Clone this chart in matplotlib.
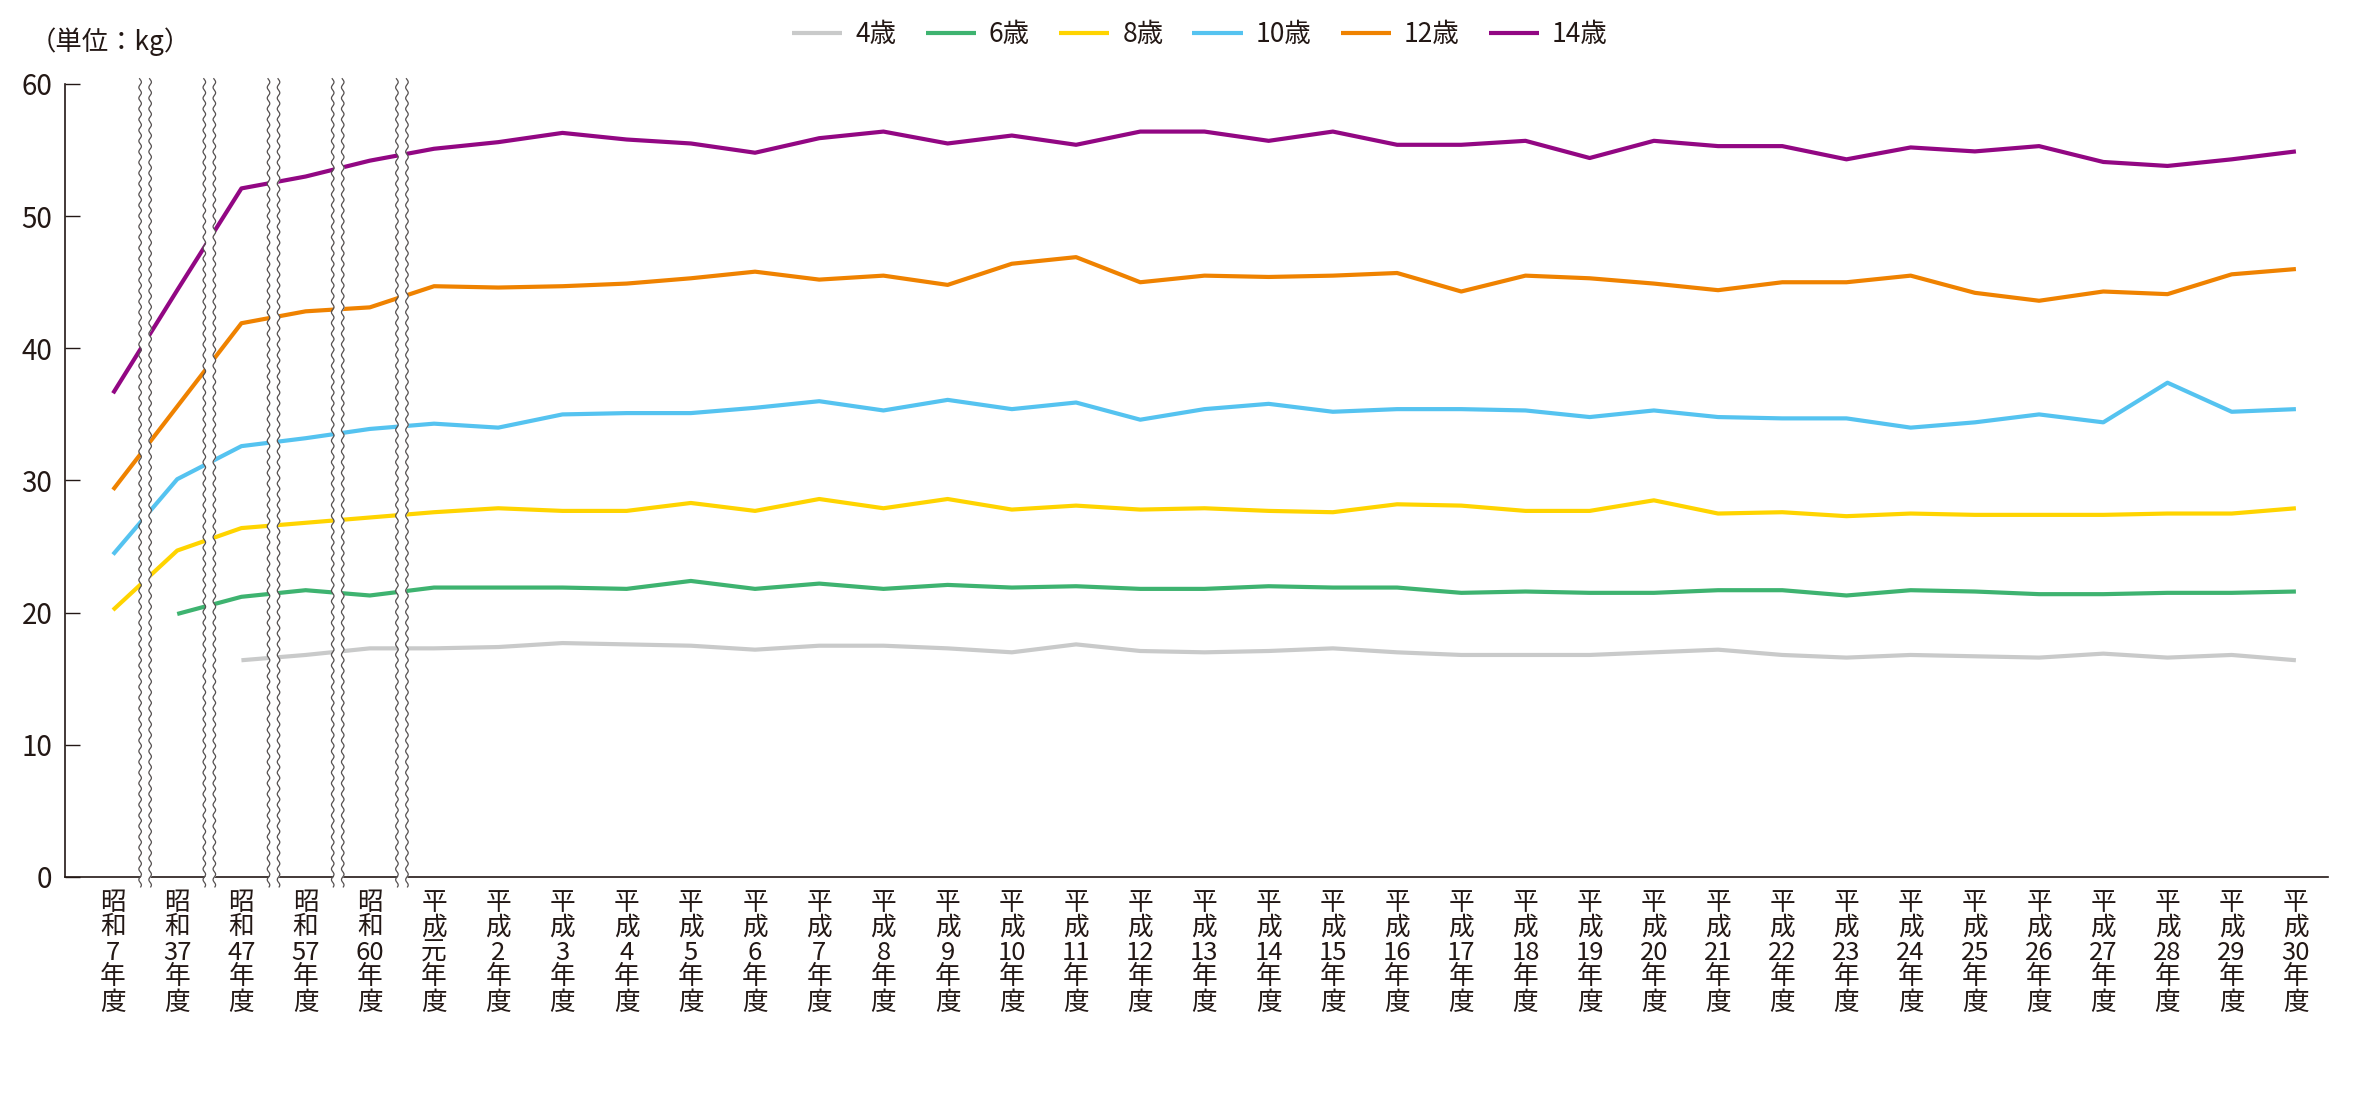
import numpy as np
import matplotlib
matplotlib.use('Agg')
import matplotlib.pyplot as plt

plt.rcParams['font.family'] = ['Noto Sans CJK JP', 'DejaVu Sans']

# 年度 (era, number)
eras = ['昭和'] * 5 + ['平成'] * 30
years = ['7', '37', '47', '57', '60', '元'] + [str(n) for n in range(2, 31)]

nan = np.nan
w4 = [nan, nan, 16.4, 16.8, 17.3, 17.3, 17.4, 17.7, 17.6, 17.5, 17.2, 17.5, 17.5, 17.3, 17.0, 17.6,
      17.1, 17.0, 17.1, 17.3, 17.0, 16.8, 16.8, 16.8, 17.0, 17.2, 16.8, 16.6, 16.8, 16.7, 16.6, 16.9,
      16.6, 16.8, 16.4]
w6 = [nan, 19.9, 21.2, 21.7, 21.3, 21.9, 21.9, 21.9, 21.8, 22.4, 21.8, 22.2, 21.8, 22.1, 21.9, 22.0,
      21.8, 21.8, 22.0, 21.9, 21.9, 21.5, 21.6, 21.5, 21.5, 21.7, 21.7, 21.3, 21.7, 21.6, 21.4, 21.4,
      21.5, 21.5, 21.6]
w8 = [20.2, 24.7, 26.4, 26.8, 27.2, 27.6, 27.9, 27.7, 27.7, 28.3, 27.7, 28.6, 27.9, 28.6, 27.8, 28.1,
      27.8, 27.9, 27.7, 27.6, 28.2, 28.1, 27.7, 27.7, 28.5, 27.5, 27.6, 27.3, 27.5, 27.4, 27.4, 27.4,
      27.5, 27.5, 27.9]
w10 = [24.4, 30.1, 32.6, 33.2, 33.9, 34.3, 34.0, 35.0, 35.1, 35.1, 35.5, 36.0, 35.3, 36.1, 35.4, 35.9,
       34.6, 35.4, 35.8, 35.2, 35.4, 35.4, 35.3, 34.8, 35.3, 34.8, 34.7, 34.7, 34.0, 34.4, 35.0, 34.4,
       37.4, 35.2, 35.4]
w12 = [29.3, 35.6, 41.9, 42.8, 43.1, 44.7, 44.6, 44.7, 44.9, 45.3, 45.8, 45.2, 45.5, 44.8, 46.4, 46.9,
       45.0, 45.5, 45.4, 45.5, 45.7, 44.3, 45.5, 45.3, 44.9, 44.4, 45.0, 45.0, 45.5, 44.2, 43.6, 44.3,
       44.1, 45.6, 46.0]
w14 = [36.6, 44.4, 52.1, 53.0, 54.2, 55.1, 55.6, 56.3, 55.8, 55.5, 54.8, 55.9, 56.4, 55.5, 56.1, 55.4,
       56.4, 56.4, 55.7, 56.4, 55.4, 55.4, 55.7, 54.4, 55.7, 55.3, 55.3, 54.3, 55.2, 54.9, 55.3, 54.1,
       53.8, 54.3, 54.9]

series = [('4歳', w4, '#c9caca'), ('6歳', w6, '#3eb370'), ('8歳', w8, '#ffd400'),
          ('10歳', w10, '#55c3f0'), ('12歳', w12, '#ef8200'), ('14歳', w14, '#920783')]

ink = '#231815'
x = np.arange(len(years))

fig = plt.figure(figsize=(23.56, 11), dpi=100)
ax = fig.add_axes([65 / 2356, 1 - 877 / 1100, (2328 - 65) / 2356, (877 - 84) / 1100])

for name, vals, col in series:
    ax.plot(x, vals, color=col, lw=3.0, label=name, solid_capstyle='butt', zorder=3)

ax.set_ylim(0, 60)
ax.set_xlim(-0.748, 34.5)
ax.set_yticks(range(0, 61, 10))
ax.tick_params(axis='y', direction='in', length=10.8, width=1, color=ink, labelsize=20,
               labelcolor=ink, pad=9)
labels = ['\n'.join(list(e) + [y] + ['年', '度']) for e, y in zip(eras, years)]
ax.set_xticks(x)
ax.set_xticklabels(labels, fontsize=18.5, color=ink, linespacing=0.95, va='top')
ax.tick_params(axis='x', length=0, pad=9)
for s in ['top', 'right']:
    ax.spines[s].set_visible(False)
for s in ['left', 'bottom']:
    ax.spines[s].set_color(ink)
    ax.spines[s].set_linewidth(1.2)

# wavy break marks between the Showa categories
yy = np.linspace(-0.75, 60.4, 900)
wave = 0.02 * np.sin(yy / 0.81 * 2 * np.pi)
for k in range(5):
    xc = k + 0.5
    ax.fill_betweenx(yy, xc - 0.078 + wave, xc + 0.078 + wave, color='white', lw=0,
                     zorder=5, clip_on=False)
    for off in (-0.078, 0.078):
        ax.plot(xc + off + wave, yy, color='#555050', lw=0.9, zorder=6, clip_on=False)

fig.text(30 / 2356, 1 - 42 / 1100, '（単位：kg）', fontsize=19, color=ink, va='center', ha='left')

leg = ax.legend(loc='center', bbox_to_anchor=(1200 / 2356, 1 - 35 / 1100),
                bbox_transform=fig.transFigure, ncol=6, frameon=False, fontsize=19,
                handlelength=1.9, handletextpad=0.5, columnspacing=1.1)
for t in leg.get_texts():
    t.set_color(ink)

fig.savefig('out.png', dpi=100)
